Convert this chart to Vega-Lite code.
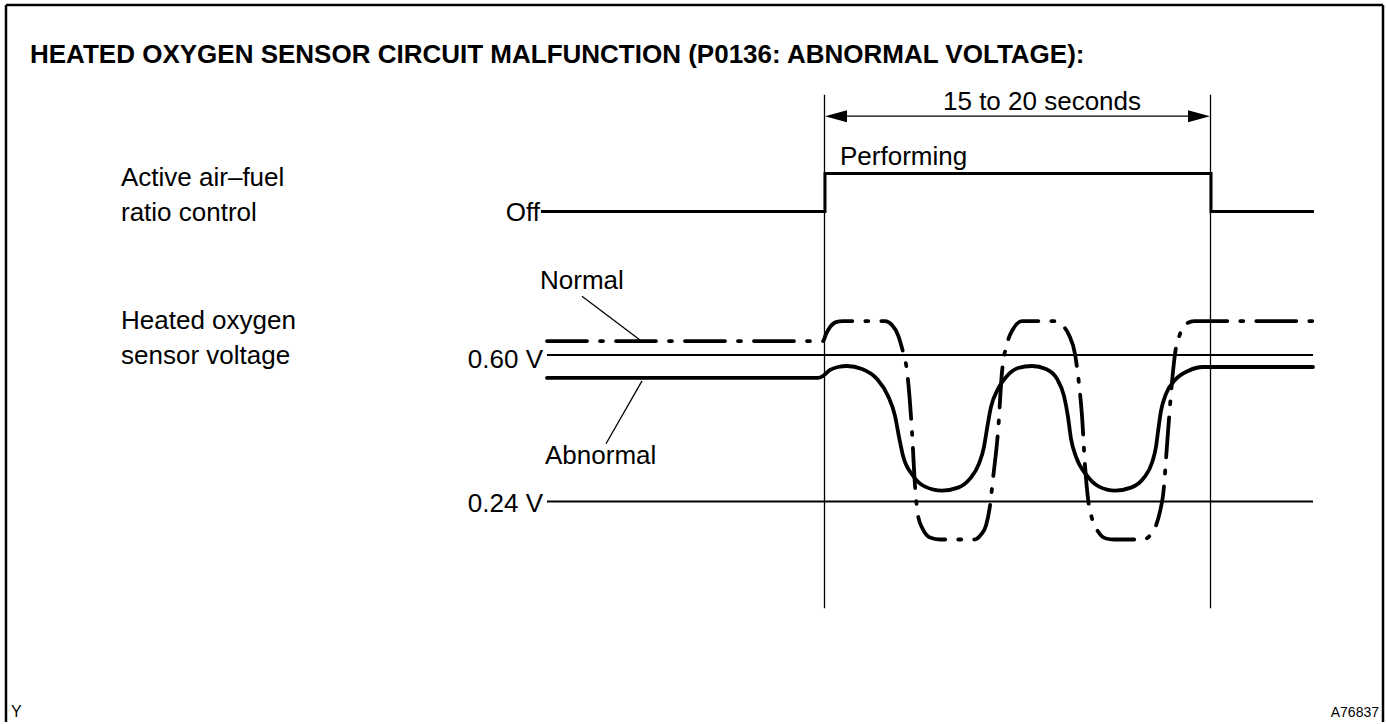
{
  "$schema": "https://vega.github.io/schema/vega-lite/v6.json",
  "width": 1386,
  "height": 724,
  "autosize": {"type": "fit", "contains": "padding"},
  "padding": 0,
  "background": "white",
  "config": {"view": {"stroke": null}},
  "datasets": {
    "frame": [
      {"x": 6, "y": 5, "x2": 1383, "y2": 5},
      {"x": 6, "y": 5, "x2": 6, "y2": 724},
      {"x": 1383, "y": 5, "x2": 1383, "y2": 724}
    ],
    "thin": [
      {"x": 824.5, "y": 95, "x2": 824.5, "y2": 610},
      {"x": 1210.5, "y": 95, "x2": 1210.5, "y2": 610},
      {"x": 830, "y": 116.5, "x2": 1205, "y2": 116.5},
      {"x": 582, "y": 297, "x2": 640, "y2": 341},
      {"x": 642, "y": 382, "x2": 606, "y2": 445}
    ],
    "levels": [
      {"x": 547, "y": 356, "x2": 1313, "y2": 356},
      {"x": 547, "y": 503, "x2": 1313, "y2": 503}
    ],
    "step": [
      {"x": 541, "y": 212},
      {"x": 825, "y": 174},
      {"x": 1211, "y": 212},
      {"x": 1314, "y": 212}
    ],
    "arrows": [
      {"x": 825, "y": 116.5, "dir": "left"},
      {"x": 1210, "y": 116.5, "dir": "right"}
    ],
    "normal": [
      {"x": 547, "y": 342}, {"x": 823, "y": 342}, {"x": 826, "y": 335}, {"x": 830, "y": 328},
      {"x": 836, "y": 323}, {"x": 843, "y": 322}, {"x": 885, "y": 322}, {"x": 892, "y": 326},
      {"x": 898, "y": 336}, {"x": 903, "y": 353}, {"x": 907, "y": 372}, {"x": 912, "y": 433},
      {"x": 915, "y": 487}, {"x": 918, "y": 517}, {"x": 923, "y": 531}, {"x": 930, "y": 539},
      {"x": 940, "y": 541}, {"x": 974, "y": 541}, {"x": 981, "y": 536}, {"x": 986, "y": 527},
      {"x": 990, "y": 507}, {"x": 993, "y": 480}, {"x": 998, "y": 433}, {"x": 1002, "y": 373},
      {"x": 1007, "y": 345}, {"x": 1013, "y": 330}, {"x": 1022, "y": 322}, {"x": 1053, "y": 322},
      {"x": 1062, "y": 326}, {"x": 1069, "y": 336}, {"x": 1075, "y": 355}, {"x": 1079, "y": 385},
      {"x": 1082, "y": 417}, {"x": 1085, "y": 467}, {"x": 1088, "y": 500}, {"x": 1092, "y": 520},
      {"x": 1098, "y": 533}, {"x": 1106, "y": 540}, {"x": 1114, "y": 541}, {"x": 1143, "y": 541},
      {"x": 1150, "y": 537}, {"x": 1156, "y": 527}, {"x": 1160, "y": 513}, {"x": 1163, "y": 497},
      {"x": 1168, "y": 433}, {"x": 1172, "y": 383}, {"x": 1175, "y": 355}, {"x": 1180, "y": 335},
      {"x": 1186, "y": 325}, {"x": 1194, "y": 322}, {"x": 1313, "y": 322}
    ],
    "abnormal": [
      {"x": 547, "y": 379}, {"x": 818, "y": 379}, {"x": 823, "y": 377}, {"x": 830, "y": 371},
      {"x": 838, "y": 368}, {"x": 847, "y": 367}, {"x": 862, "y": 370}, {"x": 877, "y": 380},
      {"x": 888, "y": 397}, {"x": 895, "y": 417}, {"x": 899, "y": 438}, {"x": 903, "y": 457},
      {"x": 913, "y": 477}, {"x": 925, "y": 488}, {"x": 942, "y": 492}, {"x": 958, "y": 489},
      {"x": 970, "y": 480}, {"x": 979, "y": 465}, {"x": 984, "y": 448}, {"x": 987, "y": 430},
      {"x": 991, "y": 408}, {"x": 998, "y": 390}, {"x": 1007, "y": 377}, {"x": 1018, "y": 369},
      {"x": 1032, "y": 367}, {"x": 1046, "y": 370}, {"x": 1057, "y": 380}, {"x": 1064, "y": 397},
      {"x": 1068, "y": 418}, {"x": 1071, "y": 440}, {"x": 1076, "y": 458}, {"x": 1087, "y": 477},
      {"x": 1099, "y": 488}, {"x": 1115, "y": 492}, {"x": 1131, "y": 489}, {"x": 1144, "y": 479},
      {"x": 1152, "y": 464}, {"x": 1156, "y": 448}, {"x": 1158, "y": 433}, {"x": 1161, "y": 412},
      {"x": 1166, "y": 395}, {"x": 1175, "y": 381}, {"x": 1188, "y": 372}, {"x": 1203, "y": 368},
      {"x": 1313, "y": 368}
    ],
    "title": [
      {"x": 30, "y": 63, "text": "HEATED OXYGEN SENSOR CIRCUIT MALFUNCTION (P0136: ABNORMAL VOLTAGE):"}
    ],
    "labelsLeft": [
      {"x": 121, "y": 187, "text": "Active air–fuel"},
      {"x": 121, "y": 222, "text": "ratio control"},
      {"x": 121, "y": 330, "text": "Heated oxygen"},
      {"x": 121, "y": 365, "text": "sensor voltage"},
      {"x": 840, "y": 165, "text": "Performing"},
      {"x": 540, "y": 290, "text": "Normal"},
      {"x": 545, "y": 465, "text": "Abnormal"}
    ],
    "labelsRight": [
      {"x": 540, "y": 222, "text": "Off"},
      {"x": 543, "y": 369, "text": "0.60 V"},
      {"x": 543, "y": 513, "text": "0.24 V"}
    ],
    "labelsCenter": [
      {"x": 1042, "y": 110, "text": "15 to 20 seconds"}
    ],
    "footLeft": [
      {"x": 11, "y": 719, "text": "Y"}
    ],
    "footRight": [
      {"x": 1379, "y": 719, "text": "A76837"}
    ]
  },
  "encoding": {
    "x": {"field": "x", "type": "quantitative", "scale": {"domain": [0, 1386], "nice": false, "zero": false}, "axis": null},
    "y": {"field": "y", "type": "quantitative", "scale": {"domain": [0, 724], "reverse": true, "nice": false, "zero": false}, "axis": null}
  },
  "layer": [
    {
      "data": {"name": "frame"},
      "mark": {"type": "rule", "color": "black", "strokeWidth": 2.5},
      "encoding": {"x2": {"field": "x2"}, "y2": {"field": "y2"}}
    },
    {
      "data": {"name": "thin"},
      "mark": {"type": "rule", "color": "black", "strokeWidth": 1.3},
      "encoding": {"x2": {"field": "x2"}, "y2": {"field": "y2"}}
    },
    {
      "data": {"name": "levels"},
      "mark": {"type": "rule", "color": "black", "strokeWidth": 2},
      "encoding": {"x2": {"field": "x2"}, "y2": {"field": "y2"}}
    },
    {
      "data": {"name": "step"},
      "mark": {"type": "line", "color": "black", "strokeWidth": 3, "interpolate": "step-after"},
      "encoding": {}
    },
    {
      "data": {"name": "abnormal"},
      "mark": {"type": "line", "color": "black", "strokeWidth": 3.8, "interpolate": "monotone", "strokeCap": "round"},
      "encoding": {}
    },
    {
      "data": {"name": "normal"},
      "mark": {"type": "line", "color": "black", "strokeWidth": 3.8, "interpolate": "monotone", "strokeCap": "round", "strokeDash": [40, 13, 3, 13]},
      "encoding": {}
    },
    {
      "data": {"name": "arrows"},
      "mark": {"type": "point", "filled": true, "color": "black", "size": 484, "opacity": 1, "strokeWidth": 0},
      "encoding": {
        "shape": {"field": "dir", "type": "nominal", "scale": {"domain": ["left", "right"], "range": ["M0,0L2,-0.55L2,0.55Z", "M0,0L-2,-0.55L-2,0.55Z"]}, "legend": null}
      }
    },
    {
      "data": {"name": "title"},
      "mark": {"type": "text", "align": "left", "baseline": "alphabetic", "font": "Liberation Sans", "fontWeight": "bold", "fontSize": 26, "color": "black"},
      "encoding": {"text": {"field": "text"}}
    },
    {
      "data": {"name": "labelsLeft"},
      "mark": {"type": "text", "align": "left", "baseline": "alphabetic", "font": "Liberation Sans", "fontSize": 26, "color": "black"},
      "encoding": {"text": {"field": "text"}}
    },
    {
      "data": {"name": "labelsRight"},
      "mark": {"type": "text", "align": "right", "baseline": "alphabetic", "font": "Liberation Sans", "fontSize": 26, "color": "black"},
      "encoding": {"text": {"field": "text"}}
    },
    {
      "data": {"name": "labelsCenter"},
      "mark": {"type": "text", "align": "center", "baseline": "alphabetic", "font": "Liberation Sans", "fontSize": 26, "color": "black"},
      "encoding": {"text": {"field": "text"}}
    },
    {
      "data": {"name": "footLeft"},
      "mark": {"type": "text", "align": "left", "baseline": "alphabetic", "font": "Liberation Sans", "fontSize": 16, "color": "black"},
      "encoding": {"text": {"field": "text"}}
    },
    {
      "data": {"name": "footRight"},
      "mark": {"type": "text", "align": "right", "baseline": "alphabetic", "font": "Liberation Sans", "fontSize": 14, "color": "black"},
      "encoding": {"text": {"field": "text"}}
    }
  ]
}
